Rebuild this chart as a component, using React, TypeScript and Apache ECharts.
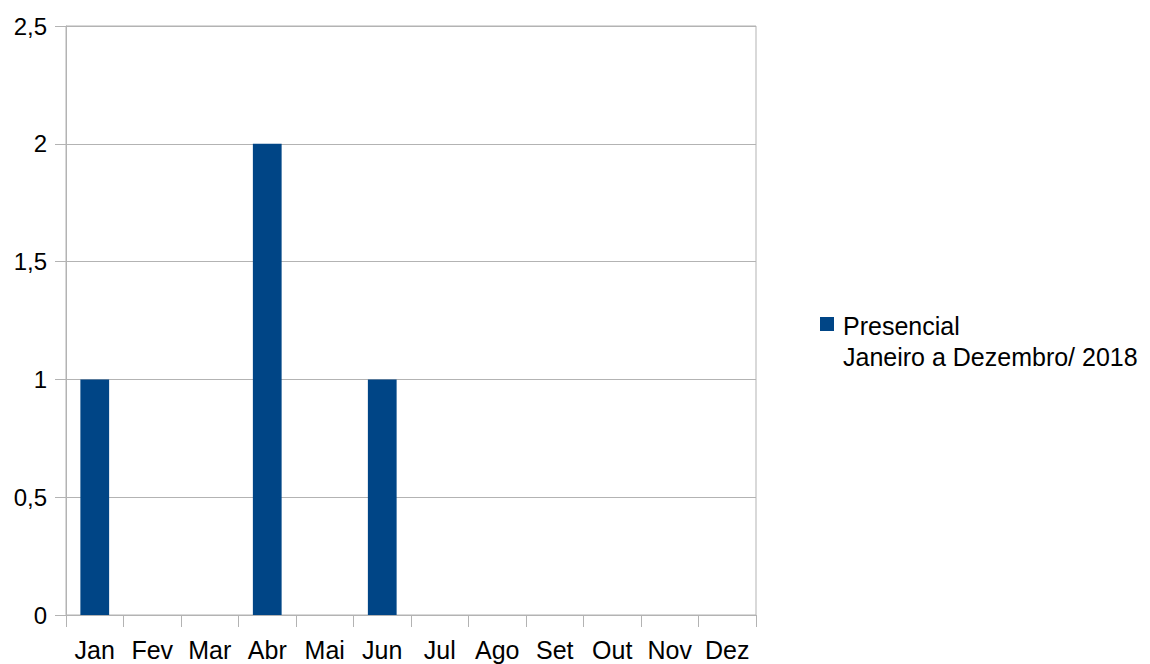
import React, { useEffect, useRef } from "react";
import * as echarts from "echarts";

const categories = ["Jan", "Fev", "Mar", "Abr", "Mai", "Jun", "Jul", "Ago", "Set", "Out", "Nov", "Dez"];
const values = [1, 0, 0, 2, 0, 1, 0, 0, 0, 0, 0, 0];
const legendLine1 = "Presencial";
const legendLine2 = "Janeiro a Dezembro/ 2018";

export default function App() {
  const ref = useRef<HTMLDivElement>(null);
  useEffect(() => {
    if (!ref.current) return;
    const chart = echarts.init(ref.current, null, { renderer: "svg" });
    const font = "'Liberation Sans', Arial, sans-serif";
    const gray = "#b3b3b3";
    chart.setOption({
      animation: false,
      textStyle: { fontFamily: font },
      grid: {
        left: 66,
        right: 394,
        top: 26,
        bottom: 49,
        show: true,
        borderColor: gray,
        borderWidth: 1,
      },
      xAxis: {
        type: "category",
        data: categories,
        axisLine: { lineStyle: { color: gray } },
        axisTick: { show: true, length: 12, lineStyle: { color: gray } },
        axisLabel: { color: "#000", fontSize: 25, fontFamily: font, margin: 22, interval: 0 },
      },
      yAxis: {
        type: "value",
        min: 0,
        max: 2.5,
        interval: 0.5,
        axisLine: { show: true, lineStyle: { color: gray } },
        axisTick: { show: true, length: 11, lineStyle: { color: gray } },
        splitLine: { lineStyle: { color: gray } },
        axisLabel: {
          color: "#000",
          fontSize: 24,
          fontFamily: font,
          margin: 19,
          formatter: (v: number) => String(v).replace(".", ","),
        },
      },
      series: [
        {
          type: "bar",
          name: legendLine1,
          data: values,
          barWidth: "50%",
          itemStyle: { color: "#004586" },
        },
      ],
      graphic: [
        {
          type: "rect",
          left: 820,
          top: 317,
          shape: { width: 14, height: 14 },
          style: { fill: "#004586" },
        },
        {
          type: "text",
          left: 843,
          top: 310,
          style: {
            text: legendLine1 + "\n" + legendLine2,
            font: `25px ${font}`,
            fill: "#000",
            lineHeight: 31,
          },
        },
      ],
    });
    return () => chart.dispose();
  }, []);
  return <div ref={ref} style={{ position: "absolute", left: 0, top: 0, width: 1150, height: 664 }} />;
}
